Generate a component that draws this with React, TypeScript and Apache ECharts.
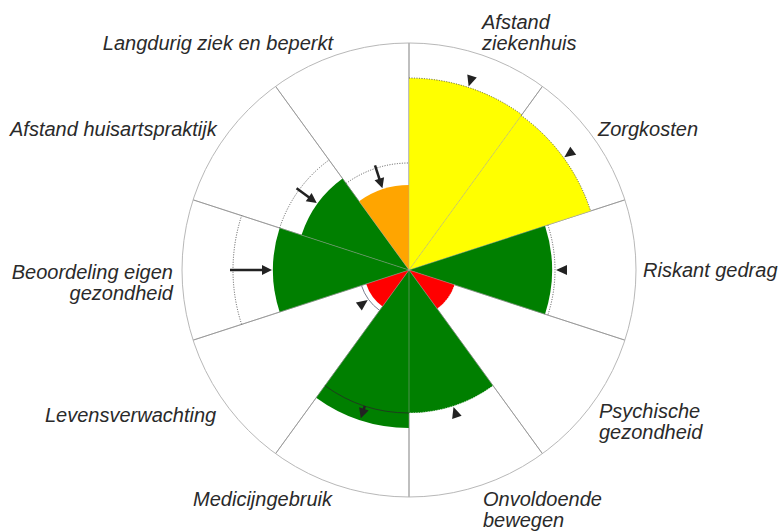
import React, { useEffect, useRef } from "react";
import * as echarts from "echarts";

// ---- data ----
const categories = [
  "Afstand\nziekenhuis",
  "Zorgkosten",
  "Riskant gedrag",
  "Psychische\ngezondheid",
  "Onvoldoende\nbewegen",
  "Medicijngebruik",
  "Levensverwachting",
  "Beoordeling eigen\ngezondheid",
  "Afstand huisartspraktijk",
  "Langdurig ziek en beperkt",
];
// score per theme (scale 0..227 = outer ring)
const values = [192, 191, 143, 48, 143, 158, 45, 136, 113, 85];
// status class per theme
const statuses = ["geel", "geel", "groen", "rood", "groen", "groen", "rood", "groen", "groen", "oranje"];
// reference value per theme (dotted ring)
const references = [192, 191, 146, 48, 143, 143, 50, 176, 136, 107];
// marker kind per theme
const markers = ["triangle", "triangle", "triangle", "none", "triangle", "arrow", "triangle", "arrow", "arrow", "arrow"];
const axisMax = 227;

// ---- styles / layout ----
const statusColor: Record<string, string> = {
  geel: "#FFFF00",
  groen: "#007F00",
  rood: "#FF0000",
  oranje: "#FFA500",
};
const refArcStyle = ["dotted", "dotted", "dotted", "light", "light", "solid", "solid", "dotted", "dotted", "dotted"];
const labelLayout = [
  { x: 482, y: 32, align: "left" },
  { x: 598, y: 129, align: "left" },
  { x: 643, y: 270, align: "left" },
  { x: 599, y: 421, align: "left" },
  { x: 483, y: 509, align: "left" },
  { x: 332, y: 499, align: "right" },
  { x: 45, y: 415, align: "left" },
  { x: 173, y: 282, align: "right" },
  { x: 10, y: 129, align: "left" },
  { x: 333, y: 43, align: "right" },
];

const CENTER: [number, number] = [409, 270];
const RADIUS = 227;

export default function App() {
  const ref = useRef<HTMLDivElement>(null);
  useEffect(() => {
    if (!ref.current) return;
    const chart = echarts.init(ref.current, null, { renderer: "svg" });
    const n = categories.length;
    const half = Math.PI / n;

    const customData = references.map((r, i) => [r, i, values[i]]);

    const option: any = {
      animation: false,
      backgroundColor: "#ffffff",
      polar: [
        { center: CENTER, radius: RADIUS },
        { center: CENTER, radius: RADIUS },
      ],
      angleAxis: [
        {
          polarIndex: 0,
          type: "category",
          data: categories,
          startAngle: 90,
          clockwise: true,
          boundaryGap: true,
          axisLine: { show: true, lineStyle: { color: "#b8b8b8", width: 1 } },
          axisTick: { show: false },
          axisLabel: { show: false },
          splitLine: { show: true, lineStyle: { color: "#8c8c8c", width: 1 } },
          z: 0,
        },
        {
          polarIndex: 1,
          type: "category",
          data: categories,
          startAngle: 90,
          clockwise: true,
          boundaryGap: true,
          axisLine: { show: false },
          axisTick: { show: false },
          axisLabel: { show: false },
          splitLine: { show: true, lineStyle: { color: "rgba(170,170,170,0.45)", width: 1 } },
          z: 5,
        },
      ],
      radiusAxis: [
        { polarIndex: 0, type: "value", min: 0, max: axisMax, show: false, splitLine: { show: false } },
        { polarIndex: 1, type: "value", min: 0, max: axisMax, show: false, splitLine: { show: false } },
      ],
      series: [
        {
          type: "bar",
          coordinateSystem: "polar",
          polarIndex: 0,
          barCategoryGap: "0%",
          data: values.map((v, i) => ({ value: v, itemStyle: { color: statusColor[statuses[i]] } })),
          z: 2,
        },
        {
          type: "custom",
          coordinateSystem: "polar",
          polarIndex: 0,
          z: 6,
          encode: { radius: 0, angle: 1 },
          data: customData,
          renderItem: (params: any, api: any) => {
            const cs = params.coordSys;
            const cx = cs.cx;
            const cy = cs.cy;
            const refV = api.value(0);
            const idx = api.value(1);
            const val = api.value(2);
            const p = api.coord([refV, idx]);
            const pv = api.coord([val, idx]);
            const r = Math.hypot(p[0] - cx, p[1] - cy);
            const rv = Math.hypot(pv[0] - cx, pv[1] - cy);
            const th = Math.atan2(p[1] - cy, p[0] - cx);
            const ux = Math.cos(th);
            const uy = Math.sin(th);
            const tx = -uy;
            const ty = ux;
            const pt = (rr: number, off = 0) => [cx + ux * rr + tx * off, cy + uy * rr + ty * off];
            const children: any[] = [];
            const st = refArcStyle[idx];
            let arcStyle: any;
            if (st === "dotted") arcStyle = { stroke: "#555555", lineWidth: 1, lineDash: [1, 1.5], fill: null };
            else if (st === "light") arcStyle = { stroke: "rgba(235,235,235,0.9)", lineWidth: 1, lineDash: [1, 1.5], fill: null };
            else arcStyle = { stroke: idx === 5 ? "#1e3d1e" : "#7a8090", lineWidth: 1, fill: null };
            children.push({
              type: "arc",
              shape: { cx, cy, r, startAngle: th - half, endAngle: th + half, clockwise: true },
              style: arcStyle,
            });
            const kind = markers[idx];
            if (kind === "triangle") {
              const tip = pt(r + 1);
              children.push({
                type: "polygon",
                shape: { points: [tip, pt(r + 12, 5), pt(r + 12, -5)] },
                style: { fill: "#222222" },
              });
            } else if (kind === "arrow") {
              const dir = rv > r ? 1 : -1;
              const from = r + (dir < 0 ? 3 : 0);
              const to = dir < 0 ? rv + 1 : rv - 2;
              const headLen = 10;
              children.push({
                type: "line",
                shape: (() => {
                  const a = pt(from);
                  const b = pt(to - dir * headLen * 0.6);
                  return { x1: a[0], y1: a[1], x2: b[0], y2: b[1] };
                })(),
                style: { stroke: "#222222", lineWidth: 2.5 },
              });
              children.push({
                type: "polygon",
                shape: { points: [pt(to), pt(to - dir * headLen, 5), pt(to - dir * headLen, -5)] },
                style: { fill: "#222222" },
              });
            }
            return { type: "group", children };
          },
        },
      ],
      graphic: categories.map((c, i) => ({
        type: "text",
        x: labelLayout[i].x,
        y: labelLayout[i].y,
        silent: true,
        style: {
          text: c,
          fill: "#2a2a2a",
          fontFamily: "Liberation Sans, Arial, sans-serif",
          fontStyle: "italic",
          fontSize: 20,
          lineHeight: 21,
          textAlign: labelLayout[i].align,
          textVerticalAlign: "middle",
        },
      })),
    };
    chart.setOption(option);
    return () => chart.dispose();
  }, []);
  return (
    <div
      ref={ref}
      style={{ position: "fixed", left: 0, top: 0, width: 779, height: 531, background: "#fff" }}
    />
  );
}
